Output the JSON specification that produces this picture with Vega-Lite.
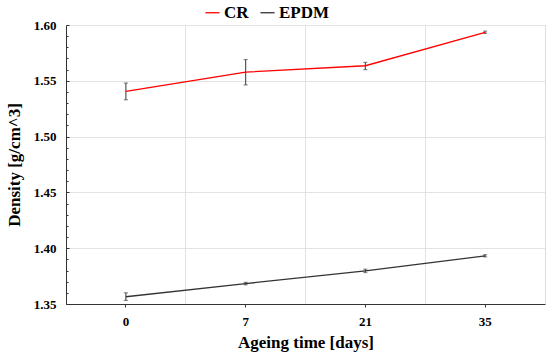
{
  "$schema": "https://vega.github.io/schema/vega-lite/v6.json",
  "width": 479,
  "height": 279,
  "autosize": "none",
  "padding": {"left": 66, "top": 25, "right": 5, "bottom": 53},
  "background": "white",
  "config": {
    "font": "Liberation Serif",
    "view": {"stroke": "#dddddd", "strokeWidth": 1},
    "axis": {"labelFont": "Liberation Serif", "titleFont": "Liberation Serif", "labelFontWeight": "bold", "titleFontWeight": "bold", "labelColor": "black", "titleColor": "black", "domainColor": "#333333", "tickColor": "#333333", "gridColor": "#e3e3e3"}
  },
  "data": {
    "values": [
      {"day": "0", "material": "CR", "density": 1.5406, "lo": 1.5330, "hi": 1.5480},
      {"day": "7", "material": "CR", "density": 1.5578, "lo": 1.5463, "hi": 1.5690},
      {"day": "21", "material": "CR", "density": 1.5635, "lo": 1.5600, "hi": 1.5665},
      {"day": "35", "material": "CR", "density": 1.5935, "lo": 1.5925, "hi": 1.5945},
      {"day": "0", "material": "EPDM", "density": 1.3565, "lo": 1.3532, "hi": 1.3600},
      {"day": "7", "material": "EPDM", "density": 1.3683, "lo": 1.3672, "hi": 1.3694},
      {"day": "21", "material": "EPDM", "density": 1.3797, "lo": 1.3782, "hi": 1.3812},
      {"day": "35", "material": "EPDM", "density": 1.3932, "lo": 1.3922, "hi": 1.3942}
    ]
  },
  "layer": [
    {
      "mark": {"type": "errorbar", "ticks": {"size": 4, "color": "#555555"}, "color": "#555555", "thickness": 1.2},
      "encoding": {
        "x": {"field": "day", "type": "ordinal", "sort": ["0", "7", "21", "35"],
          "scale": {"type": "band", "paddingInner": 0, "paddingOuter": 0},
          "axis": {"orient": "bottom", "grid": true, "bandPosition": 0, "labels": false, "ticks": false, "domain": false, "title": null}},
        "y": {"field": "lo", "type": "quantitative",
          "scale": {"domain": [1.35, 1.6], "zero": false, "nice": false},
          "axis": {"orient": "left", "values": [1.36, 1.37, 1.38, 1.39, 1.41, 1.42, 1.43, 1.44, 1.46, 1.47, 1.48, 1.49, 1.51, 1.52, 1.53, 1.54, 1.56, 1.57, 1.58, 1.59], "labels": false, "grid": false, "domain": false, "tickSize": -2, "tickColor": "#333333", "title": null}},
        "y2": {"field": "hi"}
      }
    },
    {
      "mark": {"type": "line", "strokeWidth": 1.3},
      "encoding": {
        "x": {"field": "day", "type": "ordinal", "sort": ["0", "7", "21", "35"],
          "scale": {"type": "band", "paddingInner": 0, "paddingOuter": 0},
          "axis": {"orient": "bottom", "grid": false, "labelAngle": 0, "labelFont": "Liberation Serif", "labelFontWeight": "bold", "labelFontSize": 13, "labelPadding": 8, "tickSize": 3, "title": "Ageing time [days]", "titleFont": "Liberation Serif", "titleFontSize": 17, "titlePadding": 6}},
        "y": {"field": "density", "type": "quantitative",
          "scale": {"domain": [1.35, 1.6], "zero": false, "nice": false},
          "axis": {"orient": "left", "values": [1.35, 1.4, 1.45, 1.5, 1.55, 1.6], "format": ".2f", "grid": true, "labelFont": "Liberation Serif", "labelFontWeight": "bold", "labelFontSize": 13, "labelPadding": 13, "tickSize": -3, "title": "Density [g/cm^3]", "titleFont": "Liberation Serif", "titleFontSize": 17, "titlePadding": 10}},
        "color": {"field": "material", "type": "nominal",
          "scale": {"domain": ["CR", "EPDM"], "range": ["#ff0000", "#333333"]},
          "legend": {"orient": "none", "legendX": 138, "legendY": -21, "direction": "horizontal", "title": null, "symbolType": "stroke", "symbolSize": 200, "symbolStrokeWidth": 1.3, "labelFontSize": 17, "labelFontWeight": "bold", "labelFont": "Liberation Serif", "labelColor": "black", "columnPadding": 8, "labelOffset": 3}}
      }
    }
  ],
  "resolve": {"axis": {"x": "independent", "y": "independent"}}
}
